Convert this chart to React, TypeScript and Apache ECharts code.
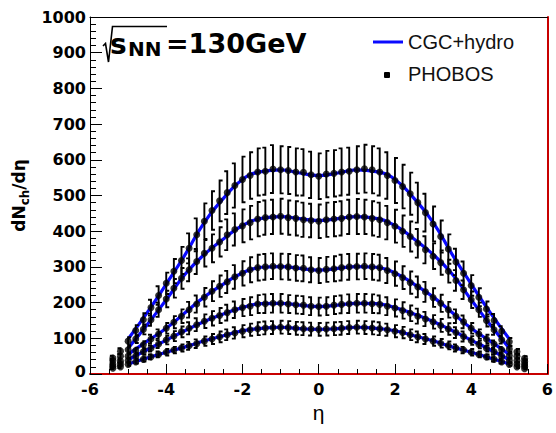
import React, { useEffect, useRef } from 'react';
import * as echarts from 'echarts';

// pseudorapidity bins of the PHOBOS data
const ETA = [-5.4, -5.2, -5.0, -4.8, -4.6, -4.4, -4.2, -4.0, -3.8, -3.6, -3.4, -3.2, -3.0, -2.8, -2.6, -2.4, -2.2, -2.0, -1.8, -1.6, -1.4, -1.2, -1.0, -0.8, -0.6, -0.4, -0.2, 0, 0.2, 0.4, 0.6, 0.8, 1.0, 1.2, 1.4, 1.6, 1.8, 2.0, 2.2, 2.4, 2.6, 2.8, 3.0, 3.2, 3.4, 3.6, 3.8, 4.0, 4.2, 4.4, 4.6, 4.8, 5.0, 5.2, 5.4];

// PHOBOS dN/deta, five centrality classes
const PH_0_6 = [45, 64, 92, 122, 152, 186, 220, 254, 288, 318, 352, 390, 428, 458, 485, 508, 528, 545, 556, 566, 568, 574, 572, 570, 566, 565, 558, 554, 560, 562, 566, 568, 572, 575, 572, 566, 556, 542, 525, 505, 480, 452, 420, 385, 350, 314, 282, 248, 215, 182, 150, 120, 90, 62, 44];
const ERR_0_6 = [6, 8, 11, 15, 18, 22, 26, 30, 34, 38, 42, 46, 50, 54, 57, 60, 62, 64, 65, 66, 66, 67, 66, 66, 66, 65, 65, 64, 65, 65, 66, 66, 66, 67, 66, 66, 65, 63, 61, 59, 56, 53, 49, 45, 41, 37, 33, 29, 25, 21, 18, 14, 11, 8, 6];
const PH_6_15 = [38, 50, 68, 98, 125, 152, 180, 210, 240, 268, 292, 315, 338, 352, 370, 390, 405, 415, 424, 434, 438, 440, 442, 438, 436, 432, 430, 428, 432, 434, 436, 440, 441, 440, 436, 432, 424, 414, 400, 385, 366, 348, 330, 312, 288, 262, 236, 208, 180, 150, 124, 96, 70, 50, 36];
const ERR_6_15 = [4, 6, 8, 11, 14, 17, 20, 23, 26, 29, 32, 35, 37, 39, 41, 43, 45, 46, 47, 48, 48, 48, 49, 48, 48, 48, 47, 47, 48, 48, 48, 48, 49, 48, 48, 48, 47, 46, 44, 42, 40, 38, 36, 34, 32, 29, 26, 23, 20, 17, 14, 11, 8, 6, 4];
const PH_15_25 = [28, 36, 50, 66, 82, 98, 112, 128, 145, 162, 180, 196, 215, 232, 246, 258, 272, 282, 292, 298, 300, 302, 301, 300, 297, 296, 292, 290, 293, 295, 298, 300, 301, 302, 300, 298, 290, 281, 270, 256, 244, 230, 214, 198, 180, 162, 146, 128, 112, 98, 84, 68, 52, 38, 28];
const ERR_15_25 = [3, 4, 6, 8, 10, 12, 13, 15, 17, 19, 22, 24, 26, 28, 30, 31, 33, 34, 35, 36, 36, 36, 36, 36, 36, 36, 35, 35, 35, 35, 36, 36, 36, 36, 36, 36, 35, 34, 32, 31, 29, 28, 26, 24, 22, 19, 18, 15, 13, 12, 10, 8, 6, 5, 3];
const PH_25_35 = [22, 28, 38, 50, 62, 72, 84, 95, 106, 118, 128, 138, 148, 156, 164, 172, 180, 186, 190, 196, 197, 198, 198, 196, 194, 193, 190, 189, 190, 193, 195, 197, 198, 198, 197, 195, 190, 185, 178, 170, 162, 154, 146, 136, 126, 116, 105, 94, 83, 72, 62, 50, 38, 28, 22];
const ERR_25_35 = [3, 4, 5, 7, 8, 9, 11, 12, 14, 15, 17, 18, 19, 20, 21, 22, 23, 24, 25, 25, 26, 26, 26, 25, 25, 25, 25, 25, 25, 25, 25, 26, 26, 26, 26, 25, 25, 24, 23, 22, 21, 20, 19, 18, 16, 15, 14, 12, 11, 9, 8, 7, 5, 4, 3];
const PH_35_45 = [16, 20, 27, 34, 41, 48, 55, 61, 67, 73, 79, 85, 92, 98, 104, 110, 115, 120, 124, 127, 129, 130, 131, 130, 128, 127, 126, 125, 126, 127, 128, 130, 131, 130, 129, 127, 124, 120, 116, 110, 104, 98, 92, 86, 80, 73, 67, 61, 55, 48, 41, 34, 27, 20, 15];
const ERR_35_45 = [2, 3, 4, 5, 6, 7, 8, 9, 9, 10, 11, 12, 13, 14, 15, 15, 16, 17, 17, 18, 18, 18, 18, 18, 18, 18, 18, 18, 18, 18, 18, 18, 18, 18, 18, 18, 17, 17, 16, 15, 15, 14, 13, 12, 11, 10, 9, 9, 8, 7, 6, 5, 4, 3, 2];

// CGC+hydro curves
const HYDRO_ETA = [-5, -4.5, -4, -3.5, -3, -2.5, -2, -1.5, -1, -0.5, 0, 0.5, 1, 1.5, 2, 2.5, 3, 3.5, 4, 4.5, 5];
const HY_0_6 = [98, 172, 252, 335, 425, 492, 545, 567, 572, 563, 556, 563, 572, 567, 545, 492, 425, 335, 252, 172, 98];
const HY_6_15 = [72, 138, 208, 280, 335, 378, 416, 436, 441, 435, 430, 435, 441, 436, 416, 378, 335, 280, 208, 138, 72];
const HY_15_25 = [55, 92, 128, 172, 216, 252, 283, 299, 301, 296, 291, 296, 301, 299, 283, 252, 216, 172, 128, 92, 55];
const HY_25_35 = [40, 68, 95, 122, 147, 168, 186, 197, 198, 193, 189, 193, 198, 197, 186, 168, 147, 122, 95, 68, 40];
const HY_35_45 = [28, 45, 61, 76, 93, 107, 121, 128, 131, 127, 125, 127, 131, 128, 121, 107, 93, 76, 61, 45, 28];

const X_TICKS = [-6, -4, -2, 0, 2, 4, 6];

const DATA_SETS = [
  [PH_0_6, ERR_0_6],
  [PH_6_15, ERR_6_15],
  [PH_15_25, ERR_15_25],
  [PH_25_35, ERR_25_35],
  [PH_35_45, ERR_35_45],
];
const HYDRO_SETS = [HY_0_6, HY_6_15, HY_15_25, HY_25_35, HY_35_45];

const BLUE = '#0a0aff';
const CAP_PATTERN = [-1, -1, 1, 1, 1];
const BOLD = 'DejaVu Sans';
const REG = 'Liberation Sans';

const tickRich = {
  t: { fontFamily: BOLD, fontWeight: 'bold', fontSize: 16, color: '#000', lineHeight: 12 },
  z: { fontFamily: BOLD, fontWeight: 'bold', fontSize: 16, color: '#000', lineHeight: 12, padding: [0, 0, 5, 0] },
};

export default function App() {
  const ref = useRef<HTMLDivElement>(null);
  useEffect(() => {
    if (!ref.current) return;
    const chart = echarts.init(ref.current, null, { renderer: 'svg' });

    const points: number[][] = [];
    DATA_SETS.forEach(([vals, errs]) => {
      ETA.forEach((e, i) => points.push([e, vals[i], errs[i]]));
    });

    const lineSeries = HYDRO_SETS.map((h) => ({
      type: 'line',
      name: 'CGC+hydro',
      data: HYDRO_ETA.map((e, i) => [e, h[i]]),
      smooth: true,
      showSymbol: false,
      lineStyle: { color: BLUE, width: 3.2 },
      z: 2,
      silent: true,
    }));

    const option: any = {
      animation: false,
      grid: { left: 90, right: 8, top: 17, bottom: 59, containLabel: false },
      xAxis: [
        {
          type: 'value',
          min: -6,
          max: 6,
          interval: 2,
          axisLine: { show: true, onZero: false, lineStyle: { color: '#c80000', width: 2 } },
          axisTick: { show: true, inside: true, length: 10, lineStyle: { color: '#000', width: 1 } },
          minorTick: { show: true, splitNumber: 4, length: 5, lineStyle: { color: '#000', width: 1 } },
          splitLine: { show: false },
          axisLabel: {
            margin: 9,
            formatter: (v: number) => (X_TICKS.includes(v) ? `{t|${v}}` : ''),
            rich: tickRich,
          },
          name: 'η',
          nameLocation: 'middle',
          nameGap: 27,
          nameTextStyle: { color: '#000', fontFamily: REG, fontSize: 21 },
        },
        {
          type: 'value', position: 'top', min: -6, max: 6,
          axisLine: { show: true, onZero: false, lineStyle: { color: '#000', width: 1 } },
          axisTick: { show: false }, axisLabel: { show: false }, splitLine: { show: false },
        },
      ],
      yAxis: [
        {
          type: 'value',
          min: 0,
          max: 1000,
          interval: 100,
          axisLine: { show: true, onZero: false, lineStyle: { color: '#000', width: 1 } },
          axisTick: { show: true, inside: true, length: 12, lineStyle: { color: '#000', width: 1 } },
          minorTick: { show: true, splitNumber: 5, length: 6, lineStyle: { color: '#000', width: 1 } },
          splitLine: { show: false },
          axisLabel: {
            margin: 4,
            formatter: (v: number) => (v === 0 ? `{z|${v}}` : `{t|${v}}`),
            rich: tickRich,
          },
          name: '{a|dN}{b|ch}{a|/dη}',
          nameLocation: 'middle',
          nameGap: 57,
          nameTextStyle: {
            rich: {
              a: { fontFamily: BOLD, fontWeight: 'bold', fontSize: 17, color: '#000', lineHeight: 24 },
              b: { fontFamily: BOLD, fontWeight: 'bold', fontSize: 12, color: '#000', lineHeight: 12, verticalAlign: 'bottom' },
            },
          },
        },
        {
          type: 'value', position: 'right', min: 0, max: 1000,
          axisLine: { show: true, onZero: false, lineStyle: { color: '#c80000', width: 2 } },
          axisTick: { show: false }, axisLabel: { show: false }, splitLine: { show: false },
        },
      ],
      series: [
        ...lineSeries,
        {
          type: 'custom',
          name: 'PHOBOS errors',
          data: points,
          z: 3,
          silent: true,
          renderItem: (params: any, api: any) => {
            const x = api.value(0);
            const y = api.value(1);
            const e = api.value(2);
            const top = api.coord([x, y + e]);
            const bot = api.coord([x, y - e]);
            const dir = CAP_PATTERN[params.dataIndex % CAP_PATTERN.length];
            const cap = 3 * dir;
            return {
              type: 'polyline',
              shape: {
                points: [
                  [top[0] + cap, top[1]],
                  [top[0], top[1]],
                  [bot[0], bot[1]],
                  [bot[0] + cap, bot[1]],
                ],
              },
              style: { stroke: '#000', lineWidth: 1.9, fill: 'none' },
            };
          },
        },
        {
          type: 'scatter',
          name: 'PHOBOS',
          data: points.map((p) => [p[0], p[1]]),
          symbol: 'circle',
          symbolSize: 7,
          itemStyle: { color: '#000' },
          z: 4,
          silent: true,
        },
      ],
      graphic: [
        {
          type: 'polyline',
          shape: { points: [[103, 46], [105.5, 43.5], [108.5, 62], [112.5, 26.5], [167, 26.5]] },
          style: { stroke: '#000', lineWidth: 1.6, fill: 'none' },
          z: 10,
        },
        { type: 'text', x: 110, y: 44, style: { text: 's', font: `bold 28px "${BOLD}"`, fill: '#000', verticalAlign: 'middle' }, z: 10 },
        { type: 'text', x: 128, y: 49, style: { text: 'NN', font: `bold 20px "${BOLD}"`, fill: '#000', verticalAlign: 'middle' }, z: 10 },
        { type: 'text', x: 166, y: 43, style: { text: '=130GeV', font: `bold 27px "${BOLD}"`, fill: '#000', verticalAlign: 'middle' }, z: 10 },
        { type: 'line', shape: { x1: 373, y1: 42, x2: 403, y2: 42 }, style: { stroke: BLUE, lineWidth: 3 }, z: 10 },
        { type: 'text', x: 408, y: 42, style: { text: 'CGC+hydro', font: `20px "${REG}"`, fill: '#111', verticalAlign: 'middle' }, z: 10 },
        { type: 'rect', shape: { x: 384, y: 72, width: 6, height: 6, r: 1 }, style: { fill: '#000' }, z: 10 },
        { type: 'text', x: 408, y: 74, style: { text: 'PHOBOS', font: `20px "${REG}"`, fill: '#111', verticalAlign: 'middle' }, z: 10 },
      ],
    };
    chart.setOption(option);
    return () => chart.dispose();
  }, []);

  return (
    <div
      ref={ref}
      style={{ position: 'absolute', left: 0, top: 0, width: 556, height: 433, background: '#fff' }}
    />
  );
}
